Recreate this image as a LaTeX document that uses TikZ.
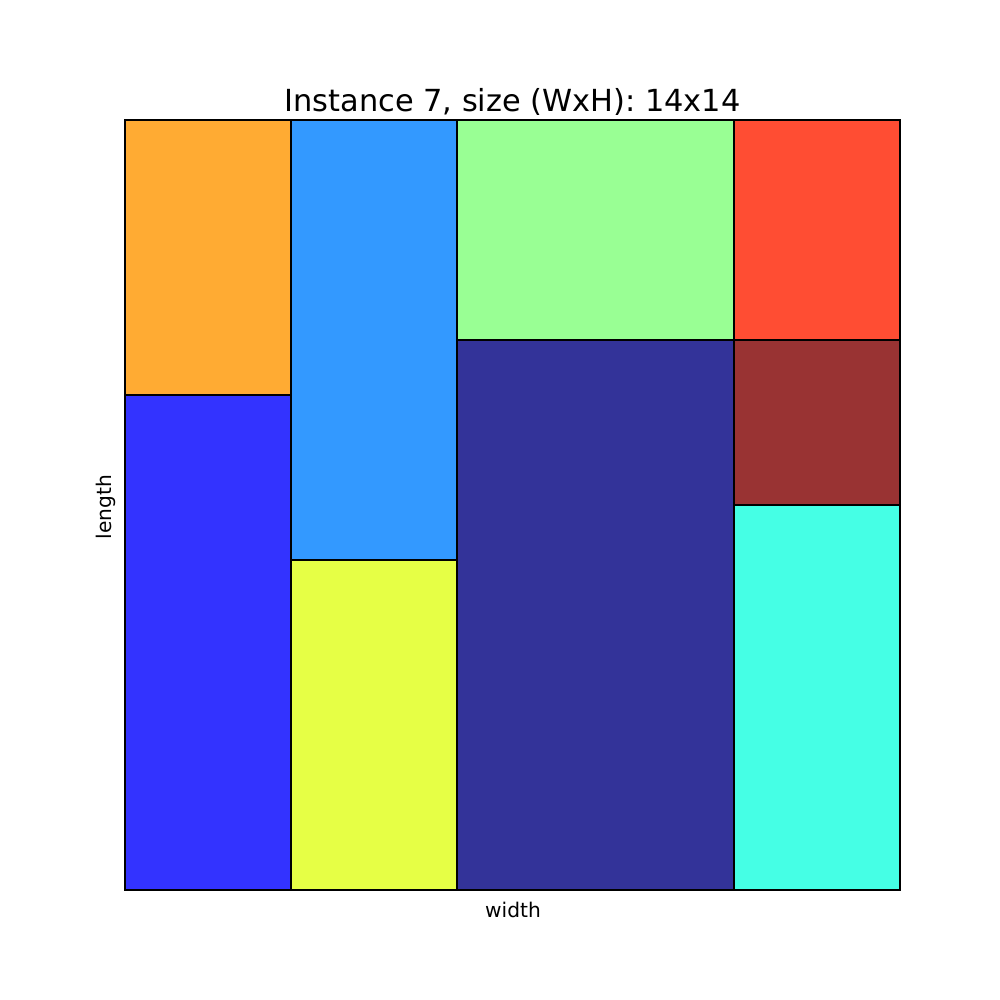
\documentclass[tikz,border=0pt]{standalone}
\usepackage{fontspec}
\setmainfont{DejaVu Sans}
\usepackage{tikz}

\definecolor{pkorange}{HTML}{FFAB33}
\definecolor{pkblue}{HTML}{3333FF}
\definecolor{pksky}{HTML}{3399FF}
\definecolor{pkgreen}{HTML}{99FF94}
\definecolor{pkred}{HTML}{FF4D33}
\definecolor{pkbrown}{HTML}{993333}
\definecolor{pkcyan}{HTML}{45FFE5}
\definecolor{pkyellow}{HTML}{E6FF45}
\definecolor{pknavy}{HTML}{333399}

\begin{document}
\begin{tikzpicture}[x=1pt, y=1pt, line width=2pt]
  \useasboundingbox[fill=white] (0,0) rectangle (1000,1000);
  % strip 14x14, one unit = 55.36 x 55 px
  \begin{scope}[shift={(125,110)}, x=55.357pt, y=55pt]
    \foreach \xa/\ya/\xb/\yb/\col in {0/9/3/14/pkorange, 0/0/3/9/pkblue,
                                      3/6/6/14/pksky, 3/0/6/6/pkyellow,
                                      6/10/11/14/pkgreen, 6/0/11/10/pknavy,
                                      11/10/14/14/pkred, 11/7/14/10/pkbrown,
                                      11/0/14/7/pkcyan} {
      \fill[\col] (\xa,\ya) rectangle (\xb,\yb);
      \draw (\xa,\ya) rectangle (\xb,\yb);
    }
    \draw[line width=1pt] (0,0) rectangle (14,14);
  \end{scope}
  % labels
  \node[anchor=base, font=\fontsize{30.4}{36}\selectfont] (title) at (512.5,888) {Instance 7, size (WxH): 14x14};
  \node[font=\fontsize{20.2}{24}\selectfont] (xlabel) at (513,90) {width};
  \node[rotate=90, font=\fontsize{20.2}{24}\selectfont] (ylabel) at (106,493) {length};
\end{tikzpicture}
\end{document}
